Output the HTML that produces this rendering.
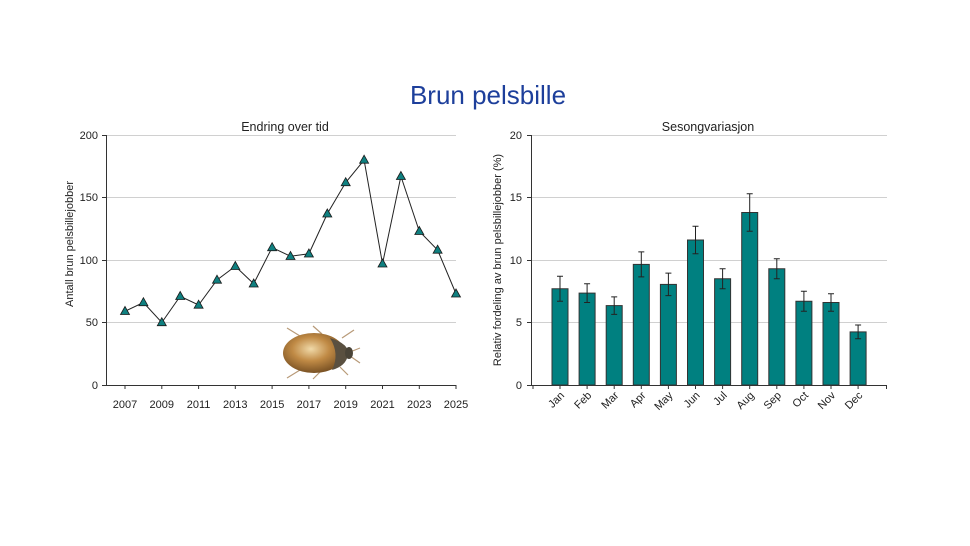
<!DOCTYPE html>
<html><head><meta charset="utf-8"><style>
html,body{margin:0;padding:0;background:#fff;}
svg{display:block;font-family:"Liberation Sans",sans-serif;}
</style></head><body>
<svg width="970" height="546" viewBox="0 0 970 546" xmlns="http://www.w3.org/2000/svg">
<defs>
<radialGradient id="bg" cx="0.45" cy="0.4" r="0.6">
<stop offset="0" stop-color="#f0d9a8"/><stop offset="0.5" stop-color="#c08a45"/><stop offset="1" stop-color="#7a5224"/>
</radialGradient>
</defs>
<text x="488" y="104" font-size="26" fill="#1d3f9b" text-anchor="middle">Brun pelsbille</text>

<!-- Left chart -->
<text x="285" y="131" font-size="12.5" fill="#222" text-anchor="middle">Endring over tid</text>
<g stroke="#d0d0d0" stroke-width="1">
<line x1="106" x2="456" y1="135.5" y2="135.5"/><line x1="106" x2="456" y1="197.5" y2="197.5"/>
<line x1="106" x2="456" y1="260.5" y2="260.5"/><line x1="106" x2="456" y1="322.5" y2="322.5"/>
</g>
<g stroke="#333" stroke-width="1">
<line x1="106.5" x2="106.5" y1="135" y2="385"/><line x1="106" x2="456" y1="385.5" y2="385.5"/>
<line x1="102" x2="106" y1="135.5" y2="135.5"/><line x1="102" x2="106" y1="197.5" y2="197.5"/>
<line x1="102" x2="106" y1="260.5" y2="260.5"/><line x1="102" x2="106" y1="322.5" y2="322.5"/><line x1="102" x2="106" y1="385.5" y2="385.5"/>
<line x1="125" x2="125" y1="385" y2="389"/><line x1="161.8" x2="161.8" y1="385" y2="389"/><line x1="198.6" x2="198.6" y1="385" y2="389"/><line x1="235.3" x2="235.3" y1="385" y2="389"/><line x1="272.1" x2="272.1" y1="385" y2="389"/><line x1="308.9" x2="308.9" y1="385" y2="389"/><line x1="345.7" x2="345.7" y1="385" y2="389"/><line x1="382.5" x2="382.5" y1="385" y2="389"/><line x1="419.3" x2="419.3" y1="385" y2="389"/><line x1="456" x2="456" y1="385" y2="389"/>
</g>
<g font-size="11" fill="#222" text-anchor="end">
<text x="98" y="139">200</text><text x="98" y="201">150</text><text x="98" y="264">100</text><text x="98" y="326">50</text><text x="98" y="389">0</text>
</g>
<g font-size="11" fill="#222" text-anchor="middle">
<text x="125" y="408">2007</text><text x="161.8" y="408">2009</text><text x="198.6" y="408">2011</text><text x="235.3" y="408">2013</text><text x="272.1" y="408">2015</text><text x="308.9" y="408">2017</text><text x="345.7" y="408">2019</text><text x="382.5" y="408">2021</text><text x="419.3" y="408">2023</text><text x="456" y="408">2025</text>
</g>
<text transform="translate(73,244) rotate(-90)" font-size="11" fill="#222" text-anchor="middle">Antall brun pelsbillejobber</text>

<!-- beetle -->
<g>
<g stroke="#b89a78" stroke-width="1.2">
<line x1="287" y1="328" x2="300" y2="336"/><line x1="313" y1="326" x2="322" y2="334"/>
<line x1="287" y1="378" x2="300" y2="370"/><line x1="313" y1="379" x2="322" y2="370"/>
<line x1="342" y1="338" x2="354" y2="330"/><line x1="350" y1="352" x2="360" y2="348"/><line x1="350" y1="356" x2="360" y2="363"/><line x1="340" y1="367" x2="348" y2="375"/>
</g>
<ellipse cx="314" cy="353" rx="31" ry="20" fill="url(#bg)"/>
<path d="M330 338 Q350 344 348 355 Q346 366 332 370 Q340 354 330 338Z" fill="#5a5040"/>
<ellipse cx="349" cy="353" rx="4" ry="6" fill="#4a4438"/>
</g>

<polyline fill="none" stroke="#222" stroke-width="1" points="125,311.25 143.4,302.5 161.8,322.5 180.2,296.25 198.6,305 217,280 235.3,266.25 253.7,283.75 272.1,247.5 290.5,256.25 308.9,253.75 327.3,213.75 345.7,182.5 364.1,160 382.5,263.75 400.9,176.25 419.3,231.25 437.6,250 456,293.75"/>
<g fill="#0f8080" stroke="#1a1a1a" stroke-width="0.8">
<path d="M125 306.5l4.5 8h-9z"/><path d="M143.4 297.7l4.5 8h-9z"/><path d="M161.8 317.7l4.5 8h-9z"/><path d="M180.2 291.5l4.5 8h-9z"/><path d="M198.6 300.2l4.5 8h-9z"/><path d="M217 275.2l4.5 8h-9z"/><path d="M235.3 261.5l4.5 8h-9z"/><path d="M253.7 279l4.5 8h-9z"/><path d="M272.1 242.7l4.5 8h-9z"/><path d="M290.5 251.5l4.5 8h-9z"/><path d="M308.9 249l4.5 8h-9z"/><path d="M327.3 209l4.5 8h-9z"/><path d="M345.7 177.7l4.5 8h-9z"/><path d="M364.1 155.2l4.5 8h-9z"/><path d="M382.5 259l4.5 8h-9z"/><path d="M400.9 171.5l4.5 8h-9z"/><path d="M419.3 226.5l4.5 8h-9z"/><path d="M437.6 245.2l4.5 8h-9z"/><path d="M456 289l4.5 8h-9z"/>
</g>

<!-- Right chart -->
<text x="708" y="131" font-size="12.5" fill="#222" text-anchor="middle">Sesongvariasjon</text>
<g stroke="#d0d0d0" stroke-width="1">
<line x1="531" x2="887" y1="135.5" y2="135.5"/><line x1="531" x2="887" y1="197.5" y2="197.5"/>
<line x1="531" x2="887" y1="260.5" y2="260.5"/><line x1="531" x2="887" y1="322.5" y2="322.5"/>
</g>
<g fill="#008080" stroke="#333" stroke-width="1">
<rect x="552" y="288.75" width="16" height="96.25"/><rect x="579.1" y="293.1" width="16" height="91.9"/><rect x="606.2" y="305.6" width="16" height="79.4"/><rect x="633.3" y="264.4" width="16" height="120.6"/><rect x="660.4" y="284.4" width="16" height="100.6"/><rect x="687.5" y="240" width="16" height="145"/><rect x="714.6" y="278.75" width="16" height="106.25"/><rect x="741.7" y="212.5" width="16" height="172.5"/><rect x="768.8" y="268.75" width="16" height="116.25"/><rect x="795.9" y="301.25" width="16" height="83.75"/><rect x="823" y="302.5" width="16" height="82.5"/><rect x="850.1" y="331.9" width="16" height="53.1"/>
</g>
<g stroke="#222" stroke-width="1" fill="none">
<path d="M560 276.25v25M557 276.25h6M557 301.25h6"/>
<path d="M587.1 283.75v18.75M584.1 283.75h6M584.1 302.5h6"/>
<path d="M614.2 296.9v17.5M611.2 296.9h6M611.2 314.4h6"/>
<path d="M641.3 251.9v25M638.3 251.9h6M638.3 276.9h6"/>
<path d="M668.4 273.1v22.5M665.4 273.1h6M665.4 295.6h6"/>
<path d="M695.5 226.25v27.5M692.5 226.25h6M692.5 253.75h6"/>
<path d="M722.6 268.75v20M719.6 268.75h6M719.6 288.75h6"/>
<path d="M749.7 193.75v37.5M746.7 193.75h6M746.7 231.25h6"/>
<path d="M776.8 258.75v20M773.8 258.75h6M773.8 278.75h6"/>
<path d="M803.9 291.25v20M800.9 291.25h6M800.9 311.25h6"/>
<path d="M831 293.75v17.5M828 293.75h6M828 311.25h6"/>
<path d="M858.1 325v13.75M855.1 325h6M855.1 338.75h6"/>
</g>
<g stroke="#333" stroke-width="1">
<line x1="531.5" x2="531.5" y1="135" y2="385"/><line x1="527" x2="887" y1="385.5" y2="385.5"/>
<line x1="527" x2="531" y1="135.5" y2="135.5"/><line x1="527" x2="531" y1="197.5" y2="197.5"/>
<line x1="527" x2="531" y1="260.5" y2="260.5"/><line x1="527" x2="531" y1="322.5" y2="322.5"/>
<line x1="533" x2="533" y1="385" y2="389"/><line x1="560" x2="560" y1="385" y2="389"/><line x1="587.1" x2="587.1" y1="385" y2="389"/><line x1="614.2" x2="614.2" y1="385" y2="389"/><line x1="641.3" x2="641.3" y1="385" y2="389"/><line x1="668.4" x2="668.4" y1="385" y2="389"/><line x1="695.5" x2="695.5" y1="385" y2="389"/><line x1="722.6" x2="722.6" y1="385" y2="389"/><line x1="749.7" x2="749.7" y1="385" y2="389"/><line x1="776.8" x2="776.8" y1="385" y2="389"/><line x1="803.9" x2="803.9" y1="385" y2="389"/><line x1="831" x2="831" y1="385" y2="389"/><line x1="858.1" x2="858.1" y1="385" y2="389"/><line x1="886.5" x2="886.5" y1="385" y2="389"/>
</g>
<g font-size="11" fill="#222" text-anchor="end">
<text x="522" y="139">20</text><text x="522" y="201">15</text><text x="522" y="264">10</text><text x="522" y="326">5</text><text x="522" y="389">0</text>
</g>
<g font-size="11" fill="#222" text-anchor="end">
<text transform="translate(565,396) rotate(-45)">Jan</text>
<text transform="translate(592.1,396) rotate(-45)">Feb</text>
<text transform="translate(619.2,396) rotate(-45)">Mar</text>
<text transform="translate(646.3,396) rotate(-45)">Apr</text>
<text transform="translate(673.4,396) rotate(-45)">May</text>
<text transform="translate(700.5,396) rotate(-45)">Jun</text>
<text transform="translate(727.6,396) rotate(-45)">Jul</text>
<text transform="translate(754.7,396) rotate(-45)">Aug</text>
<text transform="translate(781.8,396) rotate(-45)">Sep</text>
<text transform="translate(808.9,396) rotate(-45)">Oct</text>
<text transform="translate(836,396) rotate(-45)">Nov</text>
<text transform="translate(863.1,396) rotate(-45)">Dec</text>
</g>
<text transform="translate(501,260) rotate(-90)" font-size="11" fill="#222" text-anchor="middle">Relativ fordeling av brun pelsbillejobber (%)</text>
</svg>
</body></html>
